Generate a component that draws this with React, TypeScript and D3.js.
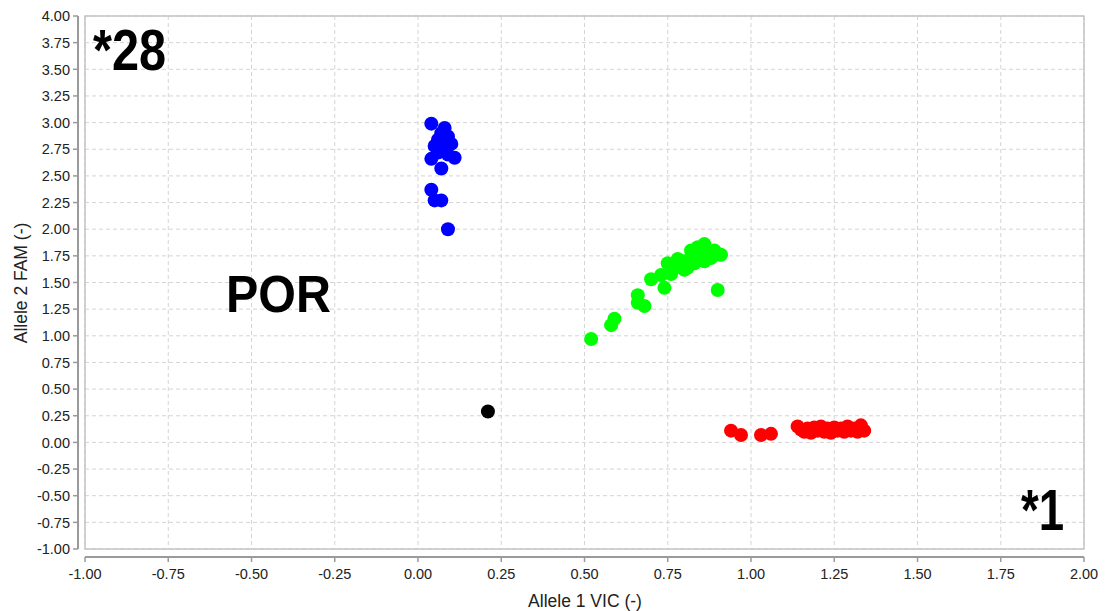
import * as d3 from 'd3';

// Allele discrimination plot: [VIC, FAM] pairs per genotype cluster
const homo28: [number, number][] = [
  [0.04, 2.99], [0.08, 2.95], [0.07, 2.9], [0.09, 2.87], [0.06, 2.84],
  [0.1, 2.8], [0.05, 2.78], [0.08, 2.76], [0.06, 2.72], [0.09, 2.7],
  [0.04, 2.66], [0.11, 2.67], [0.07, 2.57], [0.04, 2.37], [0.05, 2.27],
  [0.07, 2.27], [0.09, 2.0],
];
const hetero: [number, number][] = [
  [0.52, 0.97], [0.58, 1.1], [0.59, 1.16], [0.66, 1.38], [0.66, 1.31],
  [0.68, 1.28], [0.7, 1.53], [0.74, 1.45], [0.73, 1.57], [0.75, 1.68],
  [0.76, 1.58], [0.77, 1.63], [0.78, 1.72], [0.79, 1.66], [0.8, 1.7],
  [0.81, 1.64], [0.82, 1.8], [0.82, 1.73], [0.83, 1.68], [0.84, 1.83],
  [0.85, 1.75], [0.86, 1.86], [0.86, 1.7], [0.87, 1.78], [0.88, 1.73],
  [0.89, 1.8], [0.9, 1.77], [0.91, 1.76], [0.9, 1.43], [0.8, 1.62],
  [0.77, 1.67], [0.84, 1.72],
];
const homo1: [number, number][] = [
  [0.94, 0.11], [0.97, 0.07], [1.03, 0.07], [1.06, 0.08], [1.14, 0.15],
  [1.15, 0.12], [1.16, 0.1], [1.17, 0.13], [1.18, 0.09], [1.19, 0.14],
  [1.2, 0.11], [1.21, 0.15], [1.22, 0.1], [1.23, 0.13], [1.24, 0.09],
  [1.25, 0.14], [1.26, 0.11], [1.27, 0.13], [1.28, 0.1], [1.29, 0.15],
  [1.3, 0.11], [1.31, 0.13], [1.32, 0.1], [1.33, 0.16], [1.34, 0.11],
];
const noCall: [number, number][] = [[0.21, 0.29]];

const xTicks = d3.range(-1, 2.001, 0.25);
const yTicks = d3.range(-1, 4.001, 0.25);

const groups = [
  { name: '*28/*28', points: homo28, color: '#0000ff' },
  { name: '*1/*28', points: hetero, color: '#00ff00' },
  { name: '*1/*1', points: homo1, color: '#ff0000' },
  { name: 'undetermined', points: noCall, color: '#000000' },
];

export default function App() {
  const width = 1105;
  const height = 611;
  const x = d3.scaleLinear().domain([-1, 2]).range([85, 1084]);
  const y = d3.scaleLinear().domain([-1, 4]).range([549, 16]);
  const font = 'Arial, "Liberation Sans", sans-serif';

  return (
    <svg
      width={width}
      height={height}
      style={{ position: 'fixed', top: 0, left: 0, background: '#fff' }}
      fontFamily={font}
    >
      {/* grid */}
      {xTicks.map((t) => (
        <line key={`gx${t}`} x1={x(t)} x2={x(t)} y1={y(4)} y2={y(-1)} stroke="#d4d4d4" strokeDasharray="4 3" />
      ))}
      {yTicks.map((t) => (
        <line key={`gy${t}`} x1={x(-1)} x2={x(2)} y1={y(t)} y2={y(t)} stroke="#d4d4d4" strokeDasharray="4 3" />
      ))}
      <rect x={x(-1)} y={y(4)} width={x(2) - x(-1)} height={y(-1) - y(4)} fill="none" stroke="#c4c4c4" strokeWidth={1.5} />

      {/* y axis */}
      <line x1={78} x2={78} y1={y(4)} y2={y(-1)} stroke="#9a9a9a" strokeWidth={2} />
      {yTicks.map((t) => (
        <g key={`ty${t}`} transform={`translate(0,${y(t)})`}>
          <line x1={73} x2={78} stroke="#9a9a9a" strokeWidth={1.5} />
          <text x={70} dy="0.36em" textAnchor="end" fontSize={14.5} fill="#222">
            {t.toFixed(2)}
          </text>
        </g>
      ))}
      <text transform="translate(27,283) rotate(-90)" textAnchor="middle" fontSize={17.5} fill="#222">
        Allele 2 FAM (-)
      </text>

      {/* x axis */}
      <line x1={x(-1)} x2={x(2)} y1={557} y2={557} stroke="#9a9a9a" strokeWidth={2} />
      {xTicks.map((t) => (
        <g key={`tx${t}`} transform={`translate(${x(t)},0)`}>
          <line y1={557} y2={562} stroke="#9a9a9a" strokeWidth={1.5} />
          <text y={579} textAnchor="middle" fontSize={14.5} fill="#222">
            {t.toFixed(2)}
          </text>
        </g>
      ))}
      <text x={585} y={607} textAnchor="middle" fontSize={17.5} fill="#222">
        Allele 1 VIC (-)
      </text>

      {/* points */}
      {groups.map((g) =>
        g.points.map((p, i) => (
          <circle key={`${g.name}${i}`} cx={x(p[0])} cy={y(p[1])} r={7} fill={g.color} />
        )),
      )}

      {/* cluster labels */}
      <text transform="translate(93,70) scale(0.84,1)" fontSize={58} fontWeight="bold" fill="#000">
        *28
      </text>
      <text transform="translate(226,312) scale(0.95,1)" fontSize={51} fontWeight="bold" fill="#000">
        POR
      </text>
      <text transform="translate(1064,530) scale(0.8,1)" textAnchor="end" fontSize={57} fontWeight="bold" fill="#000">
        *1
      </text>
    </svg>
  );
}
